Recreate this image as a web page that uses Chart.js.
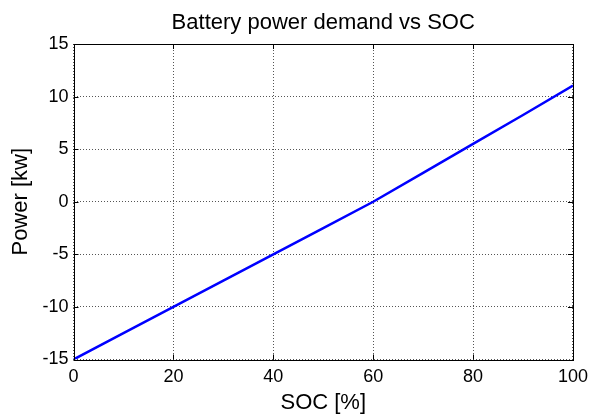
<!DOCTYPE html>
<html lang="en">
<head>
    <meta charset="UTF-8">
    <title>Battery power demand vs SOC</title>
    <script src="https://cdn.jsdelivr.net/npm/chart.js"></script>
    <style>
        html, body { margin: 0; padding: 0; background: #fff; }
        #wrap { width: 595px; height: 417px; }
    </style>
</head>
<body>
    <div id="wrap"><canvas id="socChart" width="595" height="417"></canvas></div>

    <script>
        // data
        const socValues = [0, 10, 20, 30, 40, 50, 60, 70, 80, 90, 100];
        const powerValues = [-15, -12.5, -10, -7.5, -5, -2.5, 0, 2.75, 5.5, 8.25, 11.05];
        const xTicks = [0, 20, 40, 60, 80, 100];
        const yTicks = [-15, -10, -5, 0, 5, 10, 15];

        const fontFamily = '"Liberation Sans", Arial, Helvetica, sans-serif';

        // MATLAB style box with inward tick marks on all four sides
        const boxPlugin = {
            id: 'matlabBox',
            afterDraw(chart) {
                const { ctx, chartArea: a, scales } = chart;
                const len = 5;
                ctx.save();
                ctx.strokeStyle = '#000';
                ctx.lineWidth = 1;
                ctx.beginPath();
                xTicks.forEach(v => {
                    const px = Math.round(scales.x.getPixelForValue(v)) + 0.5;
                    ctx.moveTo(px, a.bottom); ctx.lineTo(px, a.bottom - len);
                    ctx.moveTo(px, a.top); ctx.lineTo(px, a.top + len);
                });
                yTicks.forEach(v => {
                    const py = Math.round(scales.y.getPixelForValue(v)) + 0.5;
                    ctx.moveTo(a.left, py); ctx.lineTo(a.left + len, py);
                    ctx.moveTo(a.right, py); ctx.lineTo(a.right - len, py);
                });
                ctx.stroke();
                ctx.strokeRect(Math.round(a.left) + 0.5, Math.round(a.top) + 0.5,
                    Math.round(a.right - a.left), Math.round(a.bottom - a.top));
                ctx.restore();
            }
        };

        const ctx = document.getElementById('socChart').getContext('2d');
        new Chart(ctx, {
            type: 'line',
            data: {
                datasets: [{
                    data: socValues.map((s, i) => ({ x: s, y: powerValues[i] })),
                    borderColor: '#0000ff',
                    borderWidth: 2.5,
                    pointRadius: 0,
                    tension: 0,
                    fill: false
                }]
            },
            options: {
                responsive: false,
                animation: false,
                layout: { padding: { left: 0, right: 18, top: 0, bottom: 0 } },
                plugins: {
                    legend: { display: false },
                    tooltip: { enabled: false },
                    title: {
                        display: true,
                        fullSize: false,   // center over the plot box like MATLAB
                        text: 'Battery power demand vs SOC',
                        color: '#000',
                        font: { family: fontFamily, size: 22, weight: 'normal' },
                        padding: { top: 9.8, bottom: 7.8 }
                    }
                },
                scales: {
                    x: {
                        type: 'linear',
                        min: 0,
                        max: 100,
                        afterFit(scale) { scale.height = 57.5; },
                        afterBuildTicks(scale) { scale.ticks = xTicks.map(v => ({ value: v })); },
                        ticks: {
                            color: '#000',
                            padding: 7,
                            maxRotation: 0,
                            font: { family: fontFamily, size: 18 }
                        },
                        grid: { color: '#555', lineWidth: 1, drawTicks: false },
                        border: { display: false, dash: [1, 2] },
                        title: {
                            display: true,
                            text: 'SOC [%]',
                            color: '#000',
                            font: { family: fontFamily, size: 22 },
                            padding: { top: 0, bottom: 1 }
                        }
                    },
                    y: {
                        min: -15,
                        max: 15,
                        afterFit(scale) { scale.width = 73.5; },
                        afterBuildTicks(scale) { scale.ticks = yTicks.map(v => ({ value: v })); },
                        ticks: {
                            color: '#000',
                            padding: 5,
                            font: { family: fontFamily, size: 18 }
                        },
                        grid: { color: '#555', lineWidth: 1, drawTicks: false },
                        border: { display: false, dash: [1, 2] },
                        title: {
                            display: true,
                            text: 'Power [kw]',
                            color: '#000',
                            font: { family: fontFamily, size: 22 },
                            padding: { top: 8, bottom: 0 }
                        }
                    }
                }
            },
            plugins: [boxPlugin]
        });
    </script>
</body>
</html>
